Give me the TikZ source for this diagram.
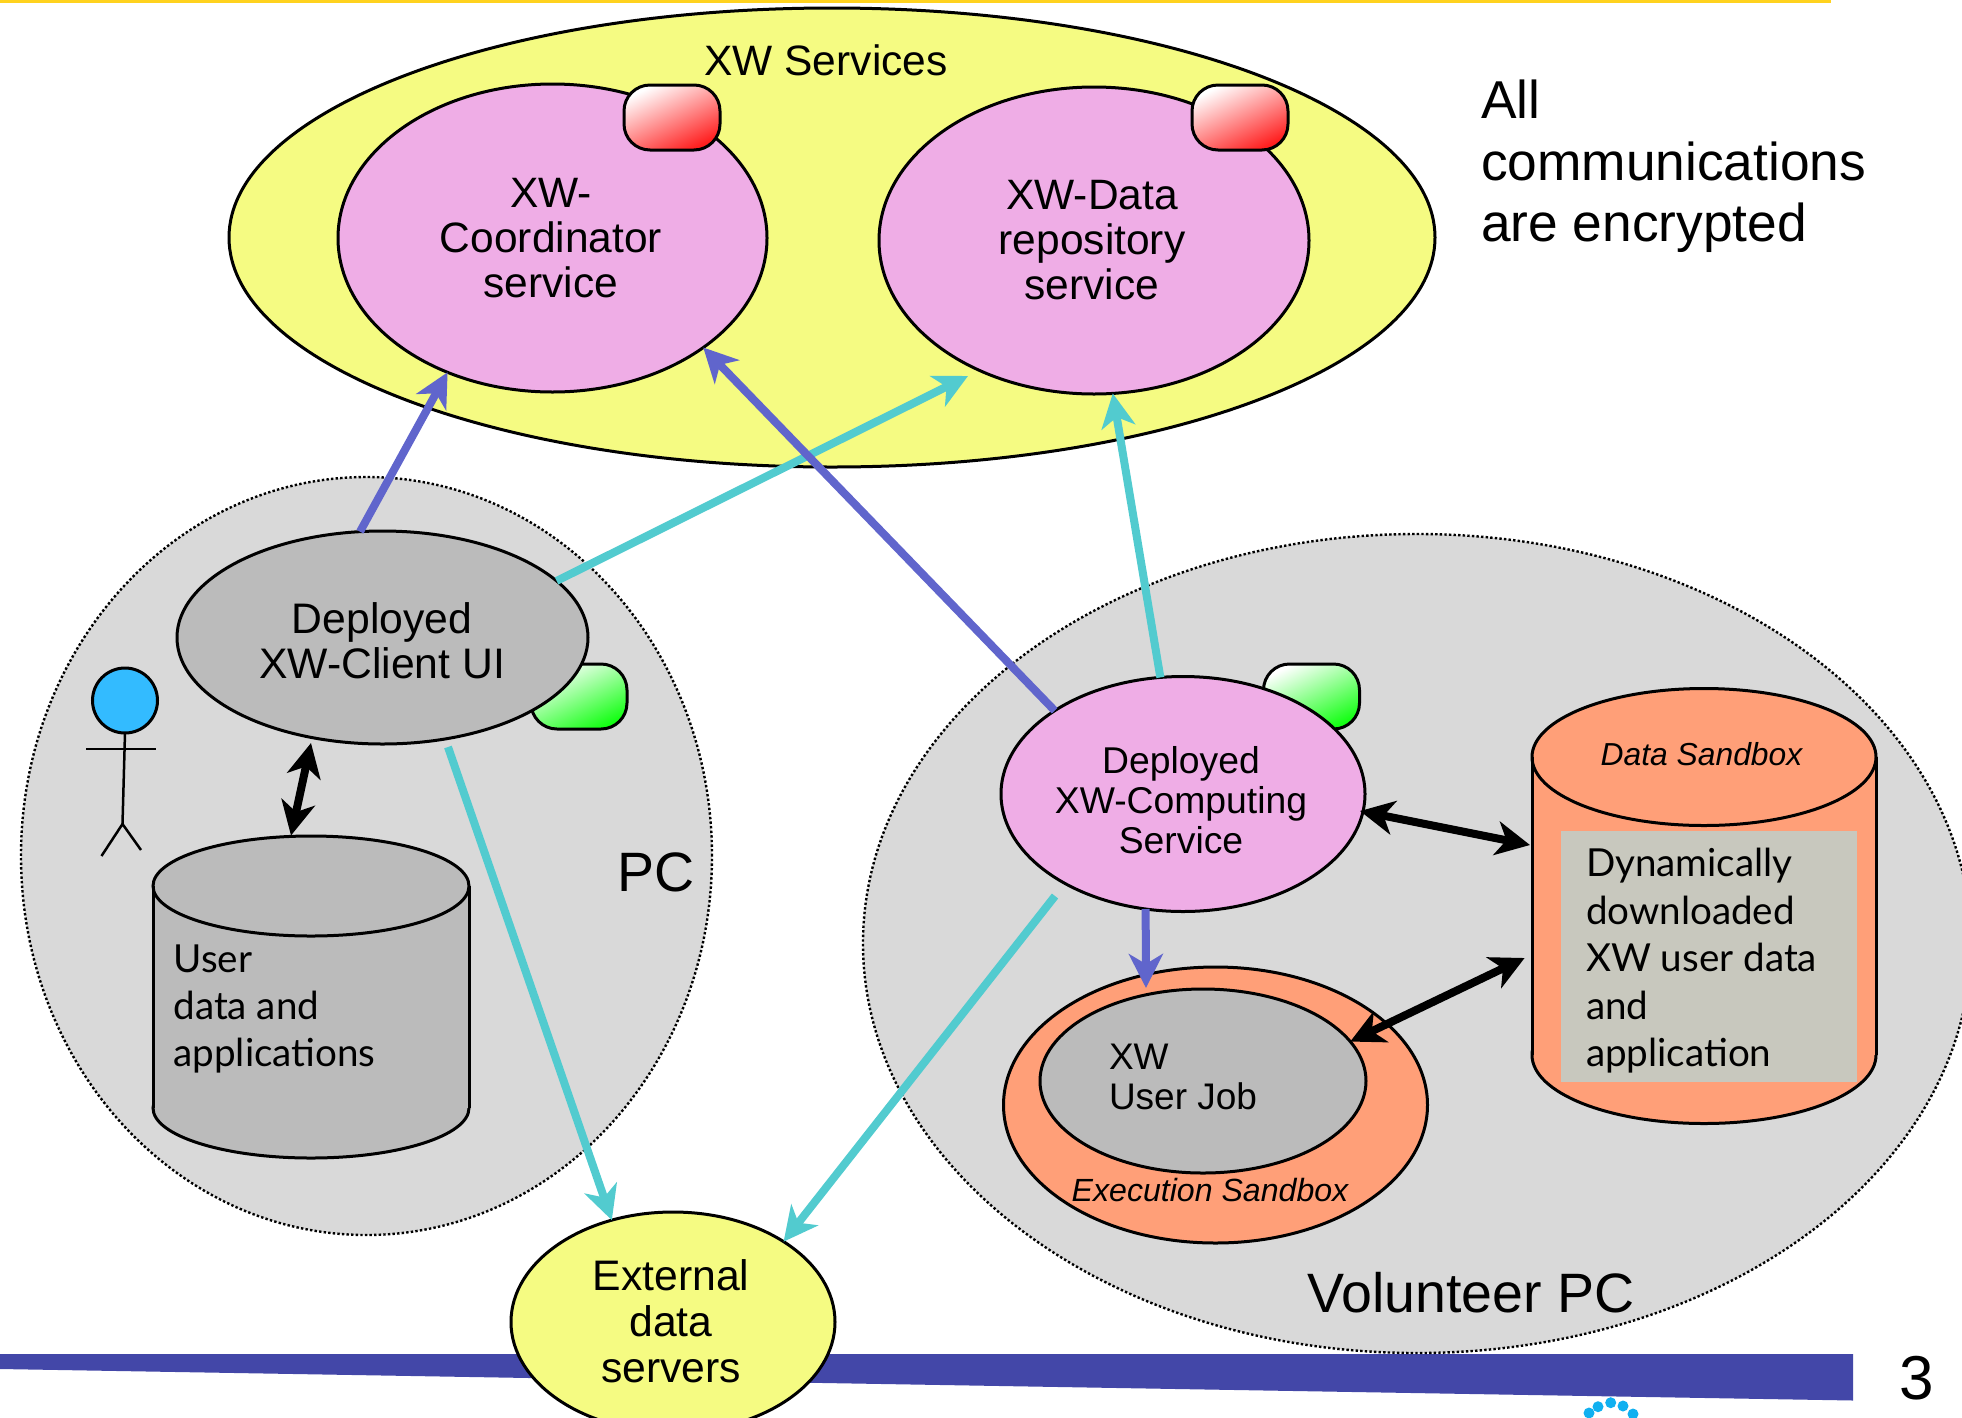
\documentclass[tikz,border=0pt]{standalone}
\usepackage{fontspec}
\setmainfont{Liberation Sans}
\newfontfamily\gill{Lato}
\usetikzlibrary{shapes.geometric,arrows.meta}
\definecolor{cyellow}{HTML}{F5FB82}
\definecolor{cpink}{HTML}{EFADE6}
\definecolor{cbg}{HTML}{D9D9D9}
\definecolor{cgray}{HTML}{BBBBBB}
\definecolor{corange}{HTML}{FF9F78}
\definecolor{ccyan}{HTML}{52CBCF}
\definecolor{cblue}{HTML}{6065CC}
\definecolor{cbar}{HTML}{4347A8}
\definecolor{cgold}{HTML}{FFD21E}
\definecolor{chead}{HTML}{33BBFF}
\definecolor{cbox}{HTML}{C8C8BE}
\definecolor{cdot}{HTML}{10B0F0}
\newcommand{\fsz}[2]{\fontsize{#1}{#2}\selectfont}
\tikzset{
  oval/.style={ellipse,draw=black,line width=3pt,inner sep=0pt,outer sep=0pt,align=center},
  zone/.style={ellipse,draw=black,fill=cbg,line width=2.4pt,dash pattern=on 2.4pt off 2.2pt,inner sep=0pt,outer sep=0pt},
  port/.style={rectangle,draw=black,line width=3pt,rounded corners=26pt,minimum width=96pt,minimum height=65pt,inner sep=0pt,outer sep=0pt},
  redport/.style={port,top color=white,bottom color=red!88!white,shading angle=26},
  greenport/.style={port,top color=white,bottom color=green!92!white,shading angle=26},
  txt/.style={inner sep=0pt,outer sep=0pt,align=left},
  tipped/.style={-{Stealth[length=34pt,width=34pt,inset=10pt]},line width=8pt},
  both/.style={{Stealth[length=34pt,width=34pt,inset=10pt]}-{Stealth[length=34pt,width=34pt,inset=10pt]},line width=8pt,black},
  limb/.style={draw=black,line width=2.5pt}
}
\begin{document}
\begin{tikzpicture}[x=1pt,y=-1pt]
\useasboundingbox (0,0) rectangle (1962,1417);
\begin{scope}
\clip (0,0) rectangle (1962,1417);
\fill[cgold] (0,0) rectangle (1831,2.5);
\fill[cbar] (0,1354) -- (1853,1354) -- (1853,1400.5) -- (0,1369) -- cycle;
\foreach \dx/\dy in {1610.7/1402.7,1598/1406.7,1623/1406,1589/1413,1633/1414}
  \fill[cdot] (\dx,\dy) circle (5.5pt);
% zones
\node[oval,fill=cyellow,minimum width=1206pt,minimum height=459pt] (services) at (832,237.5) {};
\node[zone,minimum width=691pt,minimum height=758pt] (pc) at (366.5,856) {};
\node[zone,minimum width=1108pt,minimum height=819pt] (vol) at (1417,943.5) {};
% service ovals
\node[oval,fill=cpink,minimum width=429pt,minimum height=308pt] (coord) at (552.5,238) {};
\node[txt,align=center,font=\fsz{42.5}{45}] (coordT) at (551,238) {XW-\\Coordinator\\service};
\node[oval,fill=cpink,minimum width=430pt,minimum height=307pt] (repo) at (1094,240.5) {};
\node[txt,align=center,font=\fsz{42.5}{45}] (repoT) at (1092,240.5) {XW-Data\\repository\\service};
\node[redport] (redA) at (672,117.5) {};
\node[redport] (redB) at (1240,117.5) {};
\node[txt,font=\fsz{42.5}{45}] (servicesT) at (826,60) {XW Services};
% PC
\node[greenport] (greenA) at (579,696.5) {};
\node[oval,fill=cgray,minimum width=411pt,minimum height=213pt] (client) at (382.5,637.5) {};
\node[txt,align=center,font=\fsz{42.7}{45}] (clientT) at (382,641) {Deployed\\XW-Client UI};
% user data drum
\node[oval,fill=cgray,minimum width=316pt,minimum height=100pt] (userbot) at (311,1108) {};
\fill[cgray] (153,886) rectangle (469,1108);
\node[oval,fill=cgray,minimum width=316pt,minimum height=100pt] (usercyl) at (311,886) {};
\draw[line width=3pt] (usercyl.west) -- (userbot.west);
\draw[line width=3pt] (usercyl.east) -- (userbot.east);
\node[txt,anchor=west,font=\gill\fsz{38.6}{47}] (userT) at (173.5,1008.5) {User\\data and\\applications};
\node[txt,font=\fsz{55.5}{55}] (pcT) at (656,872) {PC};
% stick person
\node[ellipse,draw=black,fill=chead,line width=3pt,minimum width=65pt,minimum height=65pt,inner sep=0pt,outer sep=0pt] (head) at (125,700.5) {};
\coordinate (hip) at (122.5,824);
\coordinate (armL) at (86,749);
\coordinate (armR) at (156,749);
\coordinate (legL) at (101.5,856);
\coordinate (legR) at (141,850);
\draw[limb] (head.south) -- (hip);
\draw[limb] (armL) -- (armR);
\draw[limb] (legL) -- (hip) -- (legR);
% volunteer
\node[greenport] (greenB) at (1311.5,696.5) {};
\node[oval,fill=cpink,minimum width=364pt,minimum height=235pt] (comp) at (1183,794) {};
\node[txt,align=center,font=\fsz{37.3}{40}] (compT) at (1181,800) {Deployed\\XW-Computing\\Service};
\node[oval,fill=corange,minimum width=424pt,minimum height=276pt] (exec) at (1215.5,1105) {};
\node[oval,fill=cgray,minimum width=326pt,minimum height=184pt] (job) at (1203,1081) {};
\node[txt,anchor=west,font=\fsz{37}{40}] (jobT) at (1109,1077) {XW\\User Job};
\node[txt,anchor=base,font=\itshape\fsz{32.1}{36}] (execT) at (1210,1201) {Execution Sandbox};
% data sandbox drum
\node[oval,fill=corange,minimum width=344pt,minimum height=137pt] (dsandbot) at (1704,1055) {};
\fill[corange] (1532,757) rectangle (1876,1055);
\node[oval,fill=corange,minimum width=344pt,minimum height=137pt] (dsand) at (1704,757) {};
\draw[line width=3pt] (dsand.west) -- (dsandbot.west);
\draw[line width=3pt] (dsand.east) -- (dsandbot.east);
\node[txt,anchor=base,font=\itshape\fsz{31.8}{36}] (dsandT) at (1701.5,765) {Data Sandbox};
\node[rectangle,fill=cbox,minimum width=296pt,minimum height=251pt,inner sep=0pt,outer sep=0pt] (dbox) at (1709,956.5) {};
\node[txt,anchor=west,font=\gill\fsz{38.6}{47.5}] (dboxT) at (1586,961) {Dynamically\\downloaded\\XW user data\\and\\application};
\node[txt,font=\fsz{55.5}{55}] (volT) at (1471,1293) {Volunteer PC};
% external
\node[oval,fill=cyellow,minimum width=324pt,minimum height=220pt] (ext) at (673,1322) {};
\node[txt,align=center,font=\fsz{42.7}{46}] (extT) at (671,1321) {External\\data\\servers};
\node[txt,anchor=north west,font=\fsz{53.3}{61.6}] (noteT) at (1481,80) {All\\communications\\are encrypted};
\node[txt,font=\fsz{62}{62}] (pageT) at (1917,1378) {3};
% free arrow ends
\coordinate (fb) at (968,376);
\coordinate (fe) at (448,747);
\coordinate (ff) at (1055,896);
\coordinate (fg) at (1146,988);
\coordinate (fh) at (1530,845);
\coordinate (fh2) at (1360,811);
\coordinate (fi) at (1524.6,958);
\coordinate (fj) at (291,835.5);
\coordinate (fj2) at (311,743);
% connectors
\draw[tipped,cblue] (client.102) -- (coord.232.4);
\draw[tipped,ccyan] (client.18.9) -- (fb);
\draw[tipped,cblue] (comp.147.5) -- (coord.324.2);
\draw[tipped,ccyan] (comp.101.6) -- (repo.277.8);
\draw[tipped,ccyan] (fe) -- (ext.121.4);
\draw[tipped,ccyan] (ff) -- (ext.36.6);
\draw[tipped,cblue] (comp.252) -- (fg);
\draw[both] (fh2) -- (fh);
\draw[both] (job.15.8) -- (fi);
\draw[both] (fj2) -- (fj);
\end{scope}
\end{tikzpicture}
\end{document}
